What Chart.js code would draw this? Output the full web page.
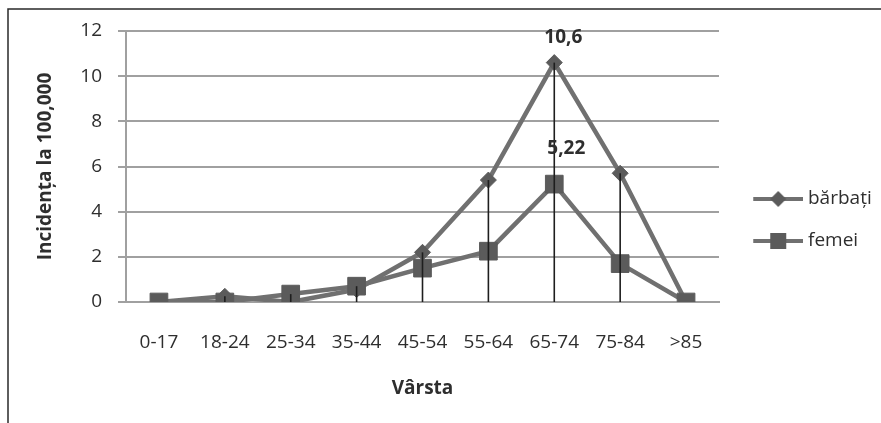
<!DOCTYPE html>
<html>
<head>
<meta charset="utf-8">
<script src="https://cdn.jsdelivr.net/npm/chart.js@4"></script>
<style>
  html, body { margin: 0; padding: 0; background: #fff; }
  #wrap { width: 881px; height: 423px; position: relative; }
</style>
</head>
<body>
<div id="wrap"><canvas id="c" width="881" height="423"></canvas></div>
<script>
// Incidence per 100,000 by age group
const ageGroups = ['0-17', '18-24', '25-34', '35-44', '45-54', '55-64', '65-74', '75-84', '>85'];
const barbati = [0, 0.25, 0, 0.55, 2.2, 5.4, 10.6, 5.7, 0];
const femei = [0, 0, 0.35, 0.7, 1.5, 2.25, 5.22, 1.7, 0];
const seriesNames = ['bărbați', 'femei'];
const yTicks = [0, 2, 4, 6, 8, 10, 12];
const labelledIndex = 6; // peak age group whose values are written on the chart

const LINE = '#707070';
const MARK = '#5b5b5b';
const TEXT = '#2e2e2e';
const FONT = "'Open Sans', sans-serif";
const FS = 19;

// Legend icon: line segment with the series marker on it
function legendIcon(shape) {
  const c = document.createElement('canvas');
  c.width = 66; c.height = 22;
  const g = c.getContext('2d');
  g.strokeStyle = LINE; g.lineWidth = 4;
  g.beginPath(); g.moveTo(16, 11); g.lineTo(66, 11); g.stroke();
  g.fillStyle = MARK;
  if (shape === 'diamond') {
    g.beginPath(); g.moveTo(41, 3); g.lineTo(49, 11); g.lineTo(41, 19); g.lineTo(33, 11); g.closePath(); g.fill();
  } else {
    g.fillRect(33, 3, 16, 16);
  }
  return c;
}

// Vertical drop lines from the highest point of each category to zero
const dropLines = {
  id: 'dropLines',
  afterDatasetsDraw(chart, args, opts) {
    const { ctx, scales: { x, y } } = chart;
    ctx.save();
    ctx.strokeStyle = opts.color;
    ctx.lineWidth = opts.width;
    ageGroups.forEach((_, i) => {
      const top = Math.max(...chart.data.datasets.map(d => d.data[i]));
      if (top <= 0) return;
      const px = x.getPixelForValue(i);
      ctx.beginPath();
      ctx.moveTo(px, y.getPixelForValue(top));
      ctx.lineTo(px, y.getPixelForValue(0));
      ctx.stroke();
    });
    ctx.restore();
  }
};

// Value labels for the peak points (decimal comma)
const peakLabels = {
  id: 'peakLabels',
  afterDatasetsDraw(chart, args, opts) {
    const { ctx } = chart;
    ctx.save();
    ctx.font = 'bold ' + FS + 'px ' + FONT;
    ctx.fillStyle = TEXT;
    ctx.textAlign = 'center';
    ctx.textBaseline = 'middle';
    opts.items.forEach(it => {
      const pt = chart.getDatasetMeta(it.dataset).data[it.index];
      const v = chart.data.datasets[it.dataset].data[it.index];
      ctx.fillText(String(v).replace('.', ','), pt.x + it.dx, pt.y + it.dy);
    });
    ctx.restore();
  }
};

// Outer frame (top and left edges)
const frame = {
  id: 'frame',
  afterDraw(chart) {
    const { ctx } = chart;
    ctx.save();
    ctx.strokeStyle = '#2a2a2a';
    ctx.lineWidth = 1.5;
    ctx.beginPath();
    ctx.moveTo(8, 423); ctx.lineTo(8, 9); ctx.lineTo(881, 9);
    ctx.stroke();
    ctx.restore();
  }
};

new Chart(document.getElementById('c'), {
  type: 'line',
  data: {
    labels: ageGroups,
    datasets: [
      {
        label: seriesNames[0],
        data: barbati,
        order: 1,
        borderColor: LINE,
        borderWidth: 4.5,
        tension: 0,
        pointStyle: 'rectRot',
        pointRadius: 8,
        pointHoverRadius: 8,
        pointBackgroundColor: MARK,
        pointBorderColor: MARK,
        pointBorderWidth: 1,
        legendIcon: legendIcon('diamond')
      },
      {
        label: seriesNames[1],
        data: femei,
        order: 0,
        borderColor: LINE,
        borderWidth: 4.5,
        tension: 0,
        pointStyle: 'rect',
        pointRadius: 12.5,
        pointHoverRadius: 12.5,
        pointBackgroundColor: MARK,
        pointBorderColor: MARK,
        pointBorderWidth: 1,
        legendIcon: legendIcon('square')
      }
    ]
  },
  options: {
    responsive: false,
    animation: false,
    events: [],
    layout: { padding: { top: 31, left: 10, right: 0, bottom: 14 } },
    scales: {
      x: {
        offset: true,
        grid: { display: false, drawTicks: false },
        border: { display: true, color: '#a0a0a0', width: 2 },
        ticks: { color: TEXT, font: { family: FONT, size: FS }, padding: 29, maxRotation: 0, autoSkip: false },
        title: { display: true, text: 'Vârsta', color: TEXT, font: { family: FONT, size: FS, weight: 'bold' }, padding: { top: 0, bottom: 9 } },
        afterFit(s) { s.height = 107; }
      },
      y: {
        min: yTicks[0],
        max: yTicks[yTicks.length - 1],
        afterBuildTicks(s) { s.ticks = yTicks.map(v => ({ value: v })); },
        grid: { color: '#a0a0a0', lineWidth: 2, tickLength: 8, drawTicks: true },
        border: { display: true, color: '#a0a0a0', width: 2 },
        ticks: { color: TEXT, font: { family: FONT, size: FS }, padding: 16 },
        title: { display: true, text: 'Incidența la 100,000', color: TEXT, font: { family: FONT, size: FS, weight: 'bold' }, padding: { top: 24, bottom: 0 } },
        afterFit(s) { s.width = 116; }
      }
    },
    plugins: {
      tooltip: { enabled: false },
      legend: {
        position: 'right',
        maxWidth: 162,
        labels: {
          color: TEXT,
          font: { family: FONT, size: FS },
          usePointStyle: true,
          pointStyleWidth: 56.5,
          padding: 23,
          sort: (a, b) => a.datasetIndex - b.datasetIndex,
          generateLabels(chart) {
            return chart.data.datasets.map((d, i) => ({
              text: d.label,
              datasetIndex: i,
              pointStyle: d.legendIcon,
              fillStyle: MARK,
              strokeStyle: MARK,
              lineWidth: 0,
              fontColor: TEXT,
              hidden: false
            }));
          }
        }
      },
      dropLines: { color: '#1e1e1e', width: 1.6 },
      peakLabels: { items: [
        { dataset: 0, index: labelledIndex, dx: 9, dy: -25 },
        { dataset: 1, index: labelledIndex, dx: 12, dy: -36 }
      ] }
    }
  },
  plugins: [dropLines, peakLabels, frame]
});
</script>
</body>
</html>
